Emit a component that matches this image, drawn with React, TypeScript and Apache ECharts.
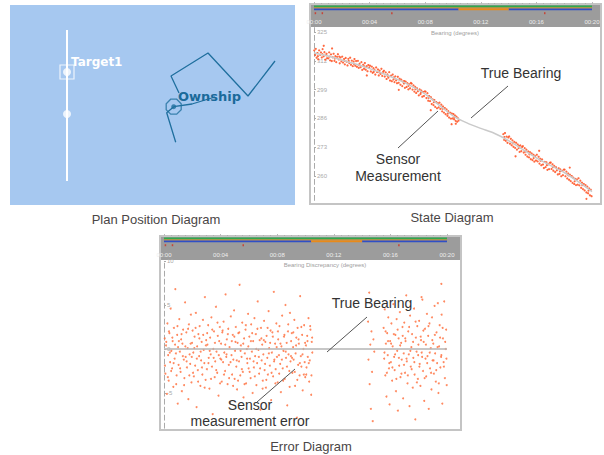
import React, { useEffect, useRef } from "react";
import * as echarts from "echarts";

// ---------- data ----------
const TIME_TICKS = [0, 4, 8, 12, 16, 20];
const BEARING_TICKS = [260, 273, 286, 299, 312, 325];
const DISCREPANCY_TICKS = [-5, 0, 5, 10];

// Plan position (km east, km north)
const targetTrack = [[5.7, 17.5], [5.7, 2.4]];
const targetFixes = [[5.7, 13.3], [5.7, 9.1]];
const ownshipLegA = [[26.5, 14.4], [23.8, 10.9], [19.8, 15.2], [16.1, 12.9], [16.9, 11.2]];
const ownshipLegB = [[16.57, 6.27], [15.67, 9.23], [16.37, 9.83]];
const ownshipHeading = [[16.37, 9.83], [18.2, 10.1], [20.5, 10.8]];
const ownshipPos = [[16.37, 9.83]];

// Timeline lanes (minutes)
const laneGreen = [[0, 20]];
const laneOrange = [[0, 20]];
const laneBlue = [[0, 10.4], [14, 20]];
const laneGap = [[10.4, 14]];
const redMarks = [0.1, 0.6, 5.6, 16.6];

// True bearing (minute, degrees)
const trueBearing = [
  [0, 315.5], [1, 314.2], [2, 312.4], [3, 310.6], [4, 308.5], [5, 306.2], [6, 303.6],
  [7, 300.6], [8, 297.0], [9, 292.0], [10, 287.2], [11, 284.0], [12, 281.5], [13, 279.2],
  [14, 276.0], [15, 272.0], [16, 268.2], [17, 264.8], [18, 261.6], [19, 257.5], [20, 253.0],
];

// Sensor bearing measurements, first run
const bearingMeasuredA = [
  [0.02,316.7],[0.08,314.6],[0.13,317.4],[0.19,313.4],[0.25,315.5],[0.31,312.7],[0.37,316.7],[0.44,314.7],
  [0.5,315.8],[0.56,313.5],[0.62,317.3],[0.69,314.0],[0.75,315.9],[0.81,312.5],[0.88,314.5],[0.94,313.2],
  [0.7,318.8],[1.3,317.6],[0.28,314.1],[0.6,315.0],[0.9,315.2],
  [1.03,313.1],[1.09,315.8],[1.16,312.2],[1.22,314.9],[1.28,311.9],[1.35,313.6],[1.41,315.2],[1.47,312.0],
  [1.54,314.1],[1.6,311.4],[1.66,313.8],[1.72,315.0],[1.79,312.6],[1.85,310.9],[1.91,313.5],[1.97,311.8],
  [1.12,313.9],[1.5,313.0],[1.82,313.9],
  [2.03,313.9],[2.09,311.2],[2.16,312.8],[2.22,310.4],[2.28,313.3],[2.35,311.6],[2.41,309.9],[2.47,312.9],
  [2.54,311.0],[2.6,313.4],[2.66,310.2],[2.72,312.1],[2.79,309.6],[2.85,311.7],[2.91,312.8],[2.97,309.8],
  [2.2,312.0],[2.5,311.9],[2.88,310.6],
  [3.03,311.9],[3.09,309.3],[3.16,312.0],[3.22,308.8],[3.28,310.7],[3.35,309.1],[3.41,311.4],[3.47,307.9],
  [3.54,310.2],[3.6,308.4],[3.66,311.0],[3.72,308.0],[3.79,309.6],[3.85,307.3],[3.91,310.1],[3.97,308.9],
  [3.8,305.4],[3.25,310.0],[3.63,309.5],
  [4.03,309.8],[4.09,307.2],[4.16,309.4],[4.22,306.6],[4.28,308.7],[4.35,307.9],[4.41,305.8],[4.47,309.0],
  [4.54,306.9],[4.6,308.1],[4.66,305.4],[4.72,307.6],[4.79,306.1],[4.85,308.4],[4.91,305.2],[4.97,307.0],
  [4.3,307.0],[4.7,306.8],
  [5.03,307.5],[5.09,304.9],[5.16,306.8],[5.22,303.8],[5.28,305.9],[5.35,304.4],[5.41,306.9],[5.47,303.1],
  [5.54,305.3],[5.6,302.8],[5.66,305.8],[5.72,303.6],[5.79,302.4],[5.85,305.0],[5.91,303.2],[5.97,301.9],
  [5.3,305.2],[5.75,304.5],
  [6.03,304.8],[6.09,302.1],[6.16,303.9],[6.22,301.2],[6.28,303.5],[6.35,300.6],[6.41,302.7],[6.47,301.8],
  [6.54,299.8],[6.6,302.6],[6.66,300.2],[6.72,301.9],[6.79,299.1],[6.85,301.4],[6.91,299.6],[6.97,302.0],
  [6.1,298.9],[6.5,302.9],[6.8,300.7],
  [7.03,301.7],[7.09,299.0],[7.16,300.9],[7.22,298.1],[7.28,300.2],[7.35,297.5],[7.41,299.6],[7.47,298.3],
  [7.54,296.4],[7.6,299.1],[7.66,297.0],[7.72,298.6],[7.79,295.8],[7.85,297.9],[7.91,296.1],[7.97,298.2],
  [7.3,299.2],[7.7,297.8],
  [8.03,298.1],[8.09,295.2],[8.16,297.4],[8.22,294.0],[8.28,296.1],[8.35,293.8],[8.41,295.6],[8.47,292.5],
  [8.54,294.6],[8.6,292.0],[8.66,294.3],[8.72,291.2],[8.79,293.4],[8.85,290.6],[8.91,292.9],[8.97,291.0],
  [8.4,289.7],[8.25,295.3],[8.62,293.3],
  [9.03,293.1],[9.09,290.3],[9.16,292.2],[9.22,289.2],[9.28,291.4],[9.35,288.6],[9.41,290.7],[9.47,287.9],
  [9.54,290.1],[9.6,287.2],[9.66,289.3],[9.72,286.4],[9.79,288.6],[9.85,285.9],[9.91,288.2],[9.97,286.0],
  [9.9,283.4],[9.25,290.4],[9.63,288.2],
  [10.03,288.0],[10.08,285.6],[10.14,287.4],[10.19,284.9],[10.25,286.8],[10.3,284.5],[10.35,286.1],[10.4,285.0],
  [10.2,283.6],[10.1,286.5],
];

// Sensor bearing measurements, second run
const bearingMeasuredB = [
  [13.62,278.9],[13.68,276.3],[13.74,279.4],[13.8,275.9],[13.86,277.8],[13.92,275.0],[13.98,277.4],
  [14.04,277.9],[14.1,274.6],[14.16,276.8],[14.22,273.9],[14.28,276.1],[14.35,273.2],[14.41,275.4],[14.47,272.7],
  [14.54,275.0],[14.6,271.9],[14.66,274.3],[14.72,272.6],[14.79,270.9],[14.85,273.8],[14.91,271.2],[14.97,273.1],
  [14.5,268.9],[13.7,277.6],[14.3,274.8],[14.75,273.6],
  [15.03,273.5],[15.09,270.6],[15.16,272.6],[15.22,269.6],[15.28,271.9],[15.35,268.8],[15.41,271.1],[15.47,268.4],
  [15.54,270.8],[15.6,267.6],[15.66,270.2],[15.72,267.2],[15.79,269.6],[15.85,266.5],[15.91,269.0],[15.97,267.0],
  [15.2,271.0],[15.5,269.8],[15.8,268.1],
  [16.03,269.6],[16.09,266.6],[16.16,268.7],[16.22,265.6],[16.28,267.8],[16.35,264.9],[16.41,267.5],[16.47,265.2],
  [16.54,263.6],[16.6,266.4],[16.66,264.0],[16.72,266.2],[16.79,262.8],[16.85,265.3],[16.91,263.1],[16.97,266.0],
  [16.2,271.4],[16.3,266.9],[16.75,264.9],
  [17.03,266.1],[17.09,263.2],[17.16,265.3],[17.22,262.4],[17.28,264.6],[17.35,261.8],[17.41,264.0],[17.47,262.6],
  [17.54,260.7],[17.6,263.5],[17.66,261.0],[17.72,263.0],[17.79,259.9],[17.85,262.3],[17.91,260.4],[17.97,262.9],
  [17.2,264.0],[17.7,262.1],
  [18.03,262.9],[18.09,259.9],[18.16,262.0],[18.22,258.9],[18.28,261.2],[18.35,258.3],[18.41,260.6],[18.47,257.7],
  [18.54,260.0],[18.6,256.9],[18.66,259.3],[18.72,256.4],[18.79,258.7],[18.85,255.9],[18.91,258.4],[18.97,256.1],
  [18.4,263.8],[18.3,260.3],[18.75,257.6],
  [19.03,259.0],[19.09,255.8],[19.16,257.9],[19.22,254.7],[19.28,257.0],[19.35,254.1],[19.41,256.4],[19.47,253.5],
  [19.54,255.9],[19.6,252.6],[19.66,255.2],[19.72,252.2],[19.79,254.4],[19.85,251.3],[19.91,253.8],[19.97,250.9],
  [20.02,252.6],[20.05,250.2],[19.6,249.7],[19.3,255.9],[19.75,253.4],
];

// Bearing discrepancy (minute, degrees), first run
const discrepancyA = [
  [0.05,1.2],[0.1,-2.8],[0.14,0.4],[0.2,-5.1],[0.24,2.9],[0.29,-0.7],[0.33,-3.6],[0.38,1.8],[0.43,-1.5],[0.47,4.6],[0.52,-0.2],
  [0.57,-2.2],[0.61,0.9],[0.66,-4.3],[0.7,2.4],[0.75,-1.1],[0.8,6.8],[0.84,-0.5],[0.89,-3.0],[0.93,1.6],[0.97,-6.2],[0.99,0.2],
  [1.03,-1.8],[1.08,3.4],[1.12,-0.3],[1.17,-2.6],[1.21,1.1],[1.26,-4.8],[1.3,0.6],[1.35,2.2],[1.4,-1.2],[1.44,-3.3],[1.49,5.3],
  [1.53,-0.9],[1.58,1.9],[1.62,-2.1],[1.67,0.1],[1.72,-5.7],[1.76,2.8],[1.81,-0.6],[1.85,-1.7],[1.9,3.9],[1.94,-3.8],[1.98,0.7],
  [2.02,2.1],[2.07,-0.4],[2.11,-3.1],[2.16,1.4],[2.2,-1.9],[2.25,4.1],[2.3,-6.6],[2.34,0.3],[2.39,-2.4],[2.43,1.7],[2.48,-0.8],
  [2.52,2.6],[2.57,-4.2],[2.62,-1.3],[2.66,0.8],[2.71,-2.9],[2.75,3.3],[2.8,-0.1],[2.85,-1.6],[2.89,5.9],[2.94,-3.5],[2.98,1.0],
  [3.03,-2.3],[3.07,0.5],[3.12,2.7],[3.16,-1.0],[3.21,-4.5],[3.26,1.3],[3.3,-0.6],[3.35,3.6],[3.39,-2.0],[3.44,-7.4],[3.48,0.0],
  [3.53,2.0],[3.58,-3.2],[3.62,-1.4],[3.67,4.8],[3.71,-0.3],[3.76,-2.7],[3.8,1.5],[3.85,-5.3],[3.9,0.9],[3.94,2.5],[3.98,-1.1],
  [4.03,0.6],[4.08,-3.7],[4.12,1.9],[4.17,-1.5],[4.21,3.1],[4.26,-0.4],[4.31,-2.5],[4.35,6.2],[4.4,-0.9],[4.44,1.1],[4.49,-4.0],
  [4.54,2.3],[4.58,-1.8],[4.63,0.2],[4.67,-6.1],[4.72,3.7],[4.77,-0.7],[4.81,-2.9],[4.86,1.6],[4.9,-1.2],[4.95,4.4],[4.99,-3.4],
  [5.02,-0.2],[5.07,2.5],[5.11,-2.0],[5.16,-4.6],[5.2,0.7],[5.25,1.8],[5.3,-1.4],[5.34,7.3],[5.39,-3.0],[5.43,0.4],[5.48,-0.9],
  [5.53,3.0],[5.57,-2.6],[5.62,-5.5],[5.66,1.2],[5.71,-0.5],[5.76,2.2],[5.8,-3.9],[5.85,0.0],[5.89,-1.6],[5.94,4.0],[5.98,-2.2],
  [6.03,1.4],[6.07,-1.1],[6.12,-3.3],[6.16,2.8],[6.21,-0.3],[6.26,-5.0],[6.3,0.9],[6.35,-2.1],[6.39,3.5],[6.44,-0.8],[6.49,1.7],
  [6.53,-4.1],[6.58,-1.6],[6.62,5.4],[6.67,-0.1],[6.72,-2.8],[6.76,1.0],[6.81,-6.9],[6.85,2.4],[6.9,-1.3],[6.94,0.5],[6.98,-3.6],
  [7.02,-0.6],[7.07,3.2],[7.11,-2.4],[7.16,0.8],[7.2,-4.4],[7.25,1.5],[7.3,-1.0],[7.34,-2.9],[7.39,4.3],[7.43,0.1],[7.48,-1.9],
  [7.53,2.1],[7.57,-5.8],[7.62,-0.4],[7.66,1.9],[7.71,-3.1],[7.76,6.5],[7.8,-1.2],[7.85,0.6],[7.89,-2.3],[7.94,2.9],[7.98,-0.9],
  [8.03,-3.8],[8.07,1.1],[8.12,-0.7],[8.16,2.6],[8.21,-1.7],[8.26,-4.9],[8.3,0.3],[8.35,3.8],[8.39,-2.2],[8.44,-0.2],[8.48,1.4],
  [8.53,-3.4],[8.58,5.0],[8.62,-1.0],[8.67,0.7],[8.71,-6.4],[8.76,2.0],[8.8,-0.6],[8.85,-2.5],[8.9,4.1],[8.94,-1.4],[8.98,0.9],
  [9.03,1.8],[9.07,-2.7],[9.12,0.2],[9.16,-1.2],[9.21,3.3],[9.26,-4.2],[9.3,-0.5],[9.35,1.3],[9.39,-7.8],[9.44,2.4],[9.48,-1.8],
  [9.53,0.6],[9.58,-3.0],[9.62,6.0],[9.67,-0.8],[9.71,-2.0],[9.76,1.6],[9.8,-4.7],[9.85,0.0],[9.9,2.7],[9.94,-1.5],[9.98,-3.2],
  [10.03,0.4],[10.07,-2.1],[10.12,1.5],[10.16,-0.9],[10.21,3.5],[10.26,-3.7],[10.3,-1.3],[10.35,2.2],[10.4,-5.2],[10.44,0.8],[10.48,-0.4],
  [0.07,-1.9],[0.16,0.8],[0.27,-3.2],[0.35,2.0],[0.41,-0.4],[0.5,-2.5],[0.59,1.3],[0.68,-1.6],[0.78,0.5],[0.86,-4.0],[0.95,2.6],
  [1.05,0.9],[1.14,-2.2],[1.24,1.7],[1.33,-0.8],[1.42,-4.1],[1.51,0.3],[1.6,-1.4],[1.7,2.3],[1.79,-3.0],[1.88,0.6],[1.96,-0.9],
  [2.05,-2.7],[2.14,0.1],[2.23,2.4],[2.32,-1.1],[2.41,-3.7],[2.5,1.2],[2.59,-0.3],[2.68,-2.1],[2.77,1.6],[2.87,-4.4],[2.96,0.4],
  [3.05,1.8],[3.14,-1.6],[3.23,-0.2],[3.32,-3.4],[3.41,2.2],[3.51,-1.0],[3.6,0.7],[3.69,-2.4],[3.78,3.0],[3.87,-0.7],[3.96,-3.9],
  [4.05,-1.2],[4.14,2.1],[4.24,-2.9],[4.33,0.5],[4.42,-0.6],[4.51,1.7],[4.6,-3.3],[4.7,-1.5],[4.79,0.9],[4.88,-4.2],[4.97,1.4],
  [5.05,0.8],[5.14,-1.3],[5.23,-3.6],[5.32,1.9],[5.41,-0.2],[5.5,-2.3],[5.6,0.6],[5.69,-4.0],[5.78,2.7],[5.87,-1.1],[5.96,0.3],
  [6.05,-2.6],[6.14,0.9],[6.23,1.8],[6.33,-1.4],[6.42,-3.1],[6.51,0.0],[6.6,2.3],[6.7,-0.9],[6.79,-2.2],[6.88,1.2],[6.97,-4.5],
  [7.05,1.0],[7.14,-1.7],[7.23,-3.5],[7.32,2.4],[7.41,-0.5],[7.5,0.7],[7.6,-2.7],[7.69,1.4],[7.78,-1.4],[7.87,-3.9],[7.96,0.2],
  [8.05,2.0],[8.14,-2.8],[8.23,0.6],[8.33,-1.2],[8.42,-3.6],[8.51,1.6],[8.6,-0.3],[8.69,-2.0],[8.78,2.8],[8.88,-4.3],[8.97,-0.8],
  [9.05,-1.0],[9.14,1.9],[9.24,-2.6],[9.33,0.4],[9.42,-3.5],[9.51,1.1],[9.6,-1.6],[9.7,2.5],[9.79,-0.6],[9.88,-2.9],[9.97,0.7],
  [10.05,-2.9],[10.14,0.9],[10.23,-1.6],[10.33,2.6],[10.42,-3.0],[10.47,1.3],
];

// Bearing discrepancy (minute, degrees), second run
const discrepancyB = [
  [14.42,3.1],[14.45,-1.2],[14.5,6.4],[14.53,-4.0],[14.58,0.5],[14.62,-6.8],[14.66,2.0],[14.7,-2.6],[14.75,-8.2],[14.8,1.1],[14.86,-0.3],
  [15.52,2.4],[15.56,-1.1],[15.6,4.5],[15.64,-3.0],[15.68,0.6],[15.72,-5.4],[15.77,1.8],[15.81,-0.7],[15.85,3.6],[15.9,-2.2],[15.94,-6.3],[15.98,0.9],
  [16.03,-1.5],[16.07,2.9],[16.12,-3.6],[16.16,0.3],[16.21,5.1],[16.26,-0.9],[16.3,-2.4],[16.35,1.6],[16.39,-4.8],[16.44,3.4],[16.48,-0.2],
  [16.53,-7.0],[16.58,1.2],[16.62,-1.9],[16.67,4.2],[16.71,-3.2],[16.76,0.7],[16.8,-1.2],[16.85,2.5],[16.9,-5.6],[16.94,-0.5],[16.98,3.0],
  [17.03,-2.7],[17.07,0.9],[17.12,6.1],[17.16,-1.4],[17.21,-3.9],[17.26,2.0],[17.3,-0.6],[17.35,-6.5],[17.39,3.8],[17.44,-2.0],[17.48,0.2],
  [17.53,1.7],[17.58,-4.4],[17.62,-1.0],[17.67,4.6],[17.71,-2.9],[17.76,-8.0],[17.8,1.3],[17.85,-0.3],[17.9,2.6],[17.94,-3.4],[17.98,0.5],
  [18.03,3.2],[18.07,-1.7],[18.12,-4.2],[18.16,1.0],[18.21,-0.4],[18.26,5.6],[18.3,-2.5],[18.35,0.8],[18.39,-5.9],[18.44,2.3],[18.48,-1.1],
  [18.53,-3.1],[18.58,4.0],[18.62,-0.8],[18.67,1.5],[18.71,-6.8],[18.76,2.9],[18.8,-2.2],[18.85,0.1],[18.9,-4.6],[18.94,3.6],[18.98,-1.3],
  [19.03,0.6],[19.07,-2.8],[19.12,4.9],[19.16,-0.5],[19.21,-3.7],[19.26,1.9],[19.3,-1.6],[19.35,5.2],[19.39,-5.0],[19.44,0.3],[19.48,2.7],
  [19.53,-2.1],[19.58,-0.9],[19.62,3.9],[19.67,-6.2],[19.71,1.2],[19.76,-1.5],[19.8,5.4],[19.85,-3.3],[19.9,0.0],[19.94,2.2],[19.98,-4.1],
  [20.02,1.6],[20.05,-2.4],[20.08,3.7],[20.1,-0.8],[19.6,7.4],[18.2,5.9],
  [15.58,-0.4],[15.66,2.0],[15.75,-2.7],[15.83,0.9],[15.92,-1.6],
  [16.05,0.6],[16.14,-2.1],[16.24,1.7],[16.33,-0.6],[16.42,-3.4],[16.51,2.2],[16.6,-1.0],[16.69,0.4],[16.78,-2.8],[16.87,1.5],[16.96,-1.8],
  [17.05,1.2],[17.14,-1.1],[17.23,-3.0],[17.32,2.5],[17.41,-0.2],[17.5,-2.3],[17.6,0.8],[17.69,-1.5],[17.78,3.1],[17.87,-3.8],[17.96,-0.7],
  [18.05,-2.0],[18.14,1.4],[18.24,-0.9],[18.33,2.1],[18.42,-3.3],[18.51,0.5],[18.6,-1.6],[18.69,2.6],[18.78,-0.4],[18.87,-2.7],[18.96,1.0],
  [19.05,-1.3],[19.14,1.6],[19.24,-2.4],[19.33,0.2],[19.42,-3.9],[19.51,1.3],[19.6,-0.7],[19.69,2.4],[19.78,-2.0],[19.87,0.8],[19.96,-1.1],[20.06,0.4],
];
const discrepancyTrue = [[0, 0], [20, 0]];

// ---------- layout helpers ----------
const ARIAL = "Liberation Sans, Arial, sans-serif";
const fmtTime = (v: number) => "00:" + String(v).padStart(2, "0");

const LANE = { green: 2.6, orange: 4.0, blue: 5.4, red: 9.2 };

function timelineSeries(xi: number) {
  const s: any[] = [];
  const seg = (spans: number[][], y: number, color: string, w: number) =>
    spans.forEach((sp) =>
      s.push({
        type: "line", xAxisIndex: xi, yAxisIndex: xi, symbol: "none", silent: true,
        data: [[sp[0], y], [sp[1], y]],
        lineStyle: { color, width: w },
      })
    );
  seg(laneGreen, LANE.green, "#2fa84f", 2);
  seg(laneOrange, LANE.orange, "#e88a1a", 1);
  seg(laneBlue, LANE.blue, "#2f4fc6", 1.6);
  seg(laneGap, LANE.blue, "#e88a1a", 1.6);
  s.push({
    type: "scatter", xAxisIndex: xi, yAxisIndex: xi, symbol: "rect", symbolSize: [1.5, 2],
    data: redMarks.map((t) => [t, LANE.red]), itemStyle: { color: "#d03020" }, silent: true,
  });
  return s;
}

function timelineXAxis(gridIndex: number) {
  return {
    gridIndex, type: "value", min: 0, max: 20, interval: 4, position: "bottom",
    axisLine: { show: true, lineStyle: { color: "#c8c8c8", width: 1 } },
    axisTick: { show: true, inside: true, length: 2, lineStyle: { color: "#bbbbbb" } },
    minorTick: { show: true, splitNumber: 8, length: 1, lineStyle: { color: "#b0b0b0" } },
    axisLabel: { inside: true, margin: 2, fontSize: 6, color: "#eeeeee", formatter: fmtTime, fontFamily: ARIAL },
    splitLine: { show: false },
  };
}

export default function App() {
  const ref = useRef<HTMLDivElement>(null);

  useEffect(() => {
    if (!ref.current) return;
    const chart = echarts.init(ref.current, undefined, { renderer: "svg" });

    const octagon = "path://M3,0 L7,0 L10,3 L10,7 L7,10 L3,10 L0,7 L0,3 Z";
    const shipColor = "#1f6f9e";
    const txt = (x: number, y: number, text: string, font: string, fill: string, align = "center") => ({
      type: "text", x, y, z: 10,
      style: { text, fill, font, textAlign: align, textVerticalAlign: "middle" },
    });
    const leader = (x1: number, y1: number, x2: number, y2: number) => ({
      type: "line", z: 10, shape: { x1, y1, x2, y2 }, style: { stroke: "#555555", lineWidth: 1 },
    });

    const option: any = {
      animation: false,
      backgroundColor: "#ffffff",
      grid: [
        { left: 10, top: 5, width: 285, height: 200, show: true, backgroundColor: "#a6c8f0", borderWidth: 0 },
        { left: 314, top: 4, width: 278, height: 23 },
        { left: 314, top: 27.6, width: 278, height: 172.8 },
        { left: 164, top: 236, width: 283, height: 24 },
        { left: 164, top: 261, width: 283, height: 167.2 },
      ],
      xAxis: [
        { gridIndex: 0, type: "value", min: 0, max: 28.5, show: false },
        timelineXAxis(1),
        { gridIndex: 2, type: "value", min: 0, max: 20, show: false },
        timelineXAxis(3),
        { gridIndex: 4, type: "value", min: 0, max: 20, show: false },
      ],
      yAxis: [
        { gridIndex: 0, type: "value", min: 0, max: 20, show: false },
        { gridIndex: 1, type: "value", min: 0, max: 23, inverse: true, show: false },
        {
          gridIndex: 2, type: "value", min: 249, max: 327,
          axisLine: { show: true, lineStyle: { color: "#aaaaaa", type: [5, 3], width: 1 } },
          axisTick: { show: true, inside: true, length: 2, customValues: BEARING_TICKS, lineStyle: { color: "#aaaaaa" } },
          axisLabel: { inside: true, margin: 3, fontSize: 6, color: "#aaaaaa", customValues: BEARING_TICKS, fontFamily: ARIAL },
          splitLine: { show: false },
        },
        { gridIndex: 3, type: "value", min: 0, max: 24, inverse: true, show: false },
        {
          gridIndex: 4, type: "value", min: -9, max: 10,
          axisLine: { show: true, lineStyle: { color: "#aaaaaa", type: [5, 3], width: 1 } },
          axisTick: { show: true, inside: true, length: 2, customValues: DISCREPANCY_TICKS, lineStyle: { color: "#aaaaaa" } },
          axisLabel: { inside: true, margin: 3, fontSize: 6, color: "#aaaaaa", customValues: DISCREPANCY_TICKS, fontFamily: ARIAL },
          splitLine: { show: false },
        },
      ],
      series: [
        // Plan position
        { type: "line", xAxisIndex: 0, yAxisIndex: 0, data: targetTrack, symbol: "none", lineStyle: { color: "#ffffff", width: 2 } },
        { type: "scatter", xAxisIndex: 0, yAxisIndex: 0, data: targetFixes, symbolSize: 8, itemStyle: { color: "#ffffff" } },
        {
          type: "scatter", xAxisIndex: 0, yAxisIndex: 0, data: [targetFixes[0]], symbol: "rect", symbolSize: 14,
          itemStyle: { color: "rgba(0,0,0,0)", borderColor: "#ffffff", borderWidth: 1.2 },
        },
        { type: "line", xAxisIndex: 0, yAxisIndex: 0, data: ownshipLegA, symbol: "none", lineStyle: { color: shipColor, width: 1.3 } },
        { type: "line", xAxisIndex: 0, yAxisIndex: 0, data: ownshipLegB, symbol: "none", lineStyle: { color: shipColor, width: 1.3 } },
        { type: "line", xAxisIndex: 0, yAxisIndex: 0, data: ownshipHeading, symbol: "none", lineStyle: { color: shipColor, width: 1.3 } },
        {
          type: "scatter", xAxisIndex: 0, yAxisIndex: 0, data: ownshipPos, symbol: octagon, symbolSize: 15,
          itemStyle: { color: "rgba(0,0,0,0)", borderColor: shipColor, borderWidth: 1.3 },
        },
        { type: "scatter", xAxisIndex: 0, yAxisIndex: 0, data: ownshipPos, symbolSize: 5, itemStyle: { color: shipColor } },

        // State diagram
        ...timelineSeries(1),
        { type: "line", xAxisIndex: 2, yAxisIndex: 2, data: trueBearing, symbol: "none", smooth: 0.3, lineStyle: { color: "#cacaca", width: 1.5 } },
        { type: "scatter", xAxisIndex: 2, yAxisIndex: 2, data: bearingMeasuredA, symbolSize: 2.2, itemStyle: { color: "#ff5020", opacity: 0.85 } },
        { type: "scatter", xAxisIndex: 2, yAxisIndex: 2, data: bearingMeasuredB, symbolSize: 2.2, itemStyle: { color: "#ff5020", opacity: 0.85 } },

        // Error diagram
        ...timelineSeries(3),
        { type: "line", xAxisIndex: 4, yAxisIndex: 4, data: discrepancyTrue, symbol: "none", lineStyle: { color: "#b4b4b4", width: 1.5 } },
        { type: "scatter", xAxisIndex: 4, yAxisIndex: 4, data: discrepancyA, symbolSize: 2, itemStyle: { color: "#ff7444", opacity: 0.85 } },
        { type: "scatter", xAxisIndex: 4, yAxisIndex: 4, data: discrepancyB, symbolSize: 2, itemStyle: { color: "#ff7444", opacity: 0.85 } },
      ],
      graphic: [
        // panel bands and borders
        { type: "rect", z: -1, shape: { x: 310, y: 4, width: 291, height: 23 }, style: { fill: "#9c9c9c" } },
        { type: "rect", z: -1, shape: { x: 160, y: 236, width: 301, height: 24 }, style: { fill: "#9c9c9c" } },
        { type: "rect", z: 0, shape: { x: 310, y: 4, width: 291, height: 200 }, style: { fill: "none", stroke: "#c4c4c4", lineWidth: 2 } },
        { type: "rect", z: 0, shape: { x: 160, y: 236, width: 301, height: 194 }, style: { fill: "none", stroke: "#c4c4c4", lineWidth: 2 } },

        // plan labels
        txt(71, 62, "Target1", "bold 12px DejaVu Sans", "#ffffff", "left"),
        txt(178, 96, "Ownship", "bold 13px DejaVu Sans", "#1a6a9a", "left"),

        // axis titles
        txt(455, 33, "Bearing (degrees)", "6px " + ARIAL, "#a0a0a0"),
        txt(325, 265, "Bearing Discrepancy (degrees)", "6px " + ARIAL, "#a0a0a0"),

        // annotations (state)
        leader(508, 86, 471, 118),
        leader(398, 148, 438, 111),
        txt(521, 73, "True Bearing", "14px " + ARIAL, "#333333"),
        txt(398, 159, "Sensor", "14px " + ARIAL, "#333333"),
        txt(398, 176, "Measurement", "14px " + ARIAL, "#333333"),

        // annotations (error)
        leader(367, 317, 327, 352),
        leader(257, 402, 295, 369),
        txt(372, 303, "True Bearing", "14px " + ARIAL, "#333333"),
        txt(250, 405, "Sensor", "14px " + ARIAL, "#333333"),
        txt(250, 421, "measurement error", "14px " + ARIAL, "#333333"),

        // captions
        txt(156, 219, "Plan Position Diagram", "13px " + ARIAL, "#4a4646"),
        txt(452, 217, "State Diagram", "13px " + ARIAL, "#4a4646"),
        txt(311, 446, "Error Diagram", "13px " + ARIAL, "#4a4646"),
      ],
    };

    chart.setOption(option);
    return () => chart.dispose();
  }, []);

  return <div ref={ref} style={{ position: "absolute", left: 0, top: 0, width: 604, height: 455 }} />;
}
